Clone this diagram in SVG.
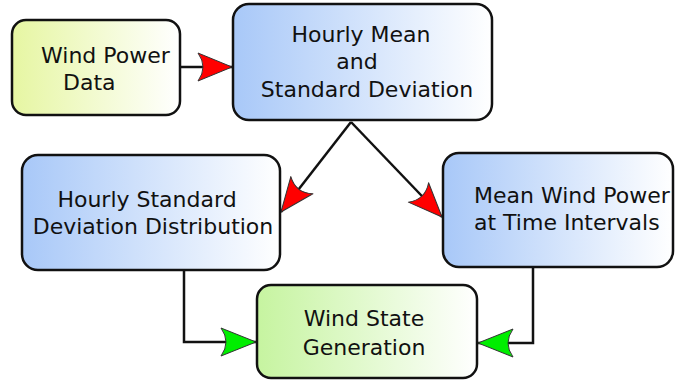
<svg xmlns="http://www.w3.org/2000/svg" width="675" height="381" viewBox="0 0 675 381">
<defs>
<linearGradient id="gY" x1="0" y1="0" x2="1" y2="0"><stop offset="0" stop-color="#e6f6a2"/><stop offset="1" stop-color="#ffffff"/></linearGradient>
<linearGradient id="gB" x1="0" y1="0" x2="1" y2="0"><stop offset="0" stop-color="#a8c8f8"/><stop offset="1" stop-color="#ffffff"/></linearGradient>
<linearGradient id="gG" x1="0" y1="0" x2="1" y2="0"><stop offset="0" stop-color="#c6f4a0"/><stop offset="1" stop-color="#ffffff"/></linearGradient>
<marker id="mR" markerUnits="userSpaceOnUse" markerWidth="40" markerHeight="40" viewBox="-36 -20 40 40" refX="0" refY="0" orient="auto" overflow="visible">
<path d="M0,0 L-34,-14 Q-24,0 -34,14 Z" fill="#ff0000" stroke="#333" stroke-width="1" stroke-linejoin="round"/>
</marker>
<marker id="mG" markerUnits="userSpaceOnUse" markerWidth="40" markerHeight="40" viewBox="-36 -20 40 40" refX="0" refY="0" orient="auto" overflow="visible">
<path d="M0,0 L-35,-14 Q-25,0 -35,14 Z" fill="#00ee00" stroke="#333" stroke-width="1" stroke-linejoin="round"/>
</marker>
</defs>
<style>
.box{stroke:#111;stroke-width:2.5}
.t{font-family:"DejaVu Sans",Verdana,sans-serif;font-size:22px;fill:#111}
.c{fill:none;stroke:#111;stroke-width:2.5}
</style>
<g id="connectors">
<path class="c" d="M180,67 L232,67" marker-end="url(#mR)"/>
<path class="c" d="M351,122 L281,212" marker-end="url(#mR)"/>
<path class="c" d="M351,122 L442,217" marker-end="url(#mR)"/>
<path class="c" d="M184,270 L184,342 L256,342" marker-end="url(#mG)"/>
<path class="c" d="M533,267 L533,343 L478,343" marker-end="url(#mG)"/>
</g>
<g id="n1">
<rect class="box" x="12" y="20" width="168" height="95" rx="14" fill="url(#gY)"/>
<text class="t" x="41" y="63">Wind Power</text>
<text class="t" x="63" y="90">Data</text>
</g>
<g id="n2">
<rect class="box" x="233" y="4" width="259" height="116" rx="16" fill="url(#gB)"/>
<text class="t" x="361" y="42" text-anchor="middle">Hourly Mean</text>
<text class="t" x="357" y="69" text-anchor="middle">and</text>
<text class="t" x="367" y="97" text-anchor="middle">Standard Deviation</text>
</g>
<g id="n3">
<rect class="box" x="22" y="155" width="258" height="115" rx="16" fill="url(#gB)"/>
<text class="t" x="147" y="207" text-anchor="middle">Hourly Standard</text>
<text class="t" x="153" y="234" text-anchor="middle">Deviation Distribution</text>
</g>
<g id="n4">
<rect class="box" x="443" y="153" width="230" height="114" rx="16" fill="url(#gB)"/>
<text class="t" x="474" y="203">Mean Wind Power</text>
<text class="t" x="474" y="230">at Time Intervals</text>
</g>
<g id="n5">
<rect class="box" x="257" y="285" width="220" height="93" rx="14" fill="url(#gG)"/>
<text class="t" x="364" y="326" text-anchor="middle">Wind State</text>
<text class="t" x="364" y="355" text-anchor="middle">Generation</text>
</g>
</svg>
